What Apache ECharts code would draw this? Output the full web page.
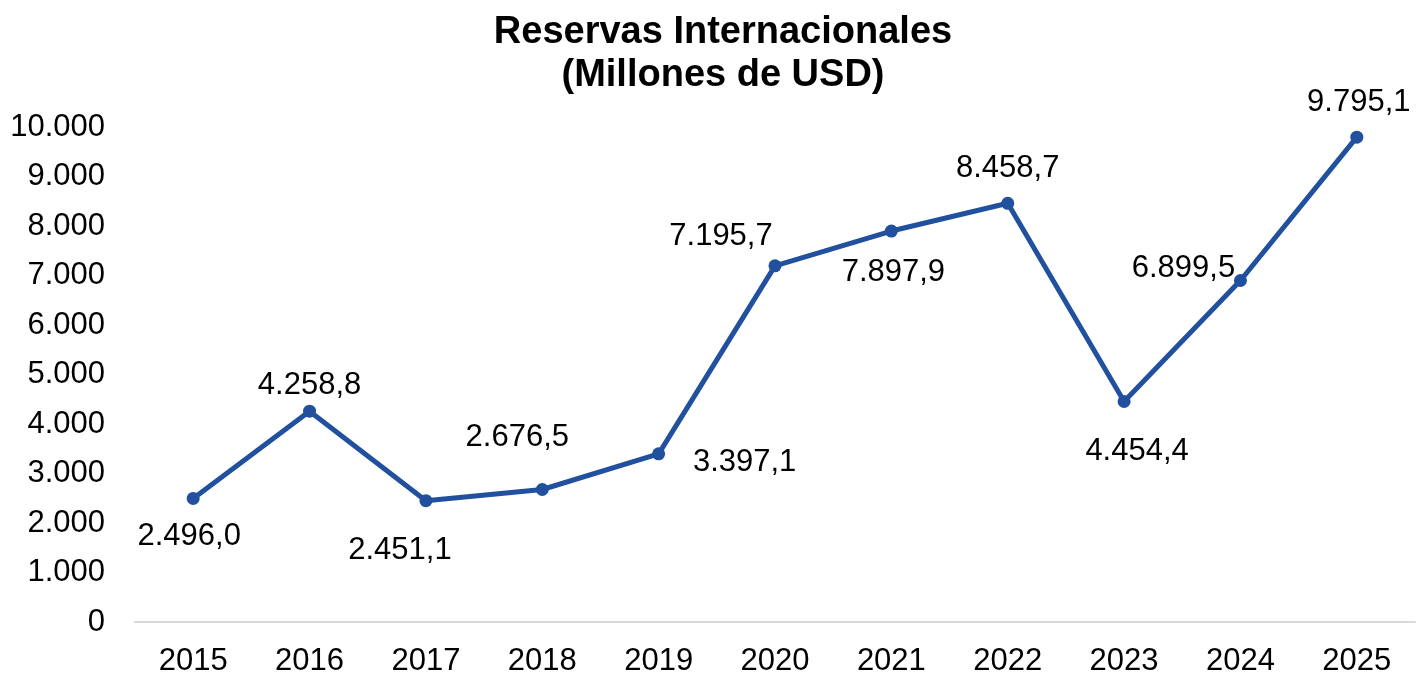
<!DOCTYPE html>
<html>
<head>
<meta charset="utf-8">
<script src="https://cdn.jsdelivr.net/npm/echarts@6/dist/echarts.min.js"></script>
<style>
html,body{margin:0;padding:0;background:#fff;}
#chart{width:1416px;height:677px;}
</style>
</head>
<body>
<div id="chart"></div>
<script>
var years = ['2015','2016','2017','2018','2019','2020','2021','2022','2023','2024','2025'];
var reservas = [2496.0, 4258.8, 2451.1, 2676.5, 3397.1, 7195.7, 7897.9, 8458.7, 4454.4, 6899.5, 9795.1];
var yTicks = [0, 1000, 2000, 3000, 4000, 5000, 6000, 7000, 8000, 9000, 10000];

// label placement (style only)
var labelOffsets = [[-4,38],[0,-26],[-26,50],[-25,-52],[86,9],[-54,-29],[2,41],[0,-35],[13,50],[-57,-12],[2,-35]];

function fmt(v, dec){
  var s = v.toFixed(dec);
  var parts = s.split('.');
  var ip = parts[0].replace(/\B(?=(\d{3})+(?!\d))/g, '.');
  return parts.length > 1 ? ip + ',' + parts[1] : ip;
}

var FONT = '"Liberation Sans", Arial, sans-serif';
var chart = echarts.init(document.getElementById('chart'));
var data = reservas.map(function(v,i){
  return {value: v, label: {offset: labelOffsets[i]}};
});
chart.setOption({
  animation: false,
  backgroundColor: '#fff',
  title: {
    text: 'Reservas Internacionales\n(Millones de USD)',
    left: 718,
    textAlign: 'center',
    top: 6,
    textStyle: {fontFamily: FONT, fontWeight: 'bold', fontSize: 38, lineHeight: 43, color: '#000'}
  },
  grid: {left: 135, right: 1, top: 127, bottom: 51, containLabel: false},
  xAxis: {
    type: 'category',
    data: years,
    boundaryGap: true,
    axisLine: {lineStyle: {color: '#d9d9d9', width: 2}},
    axisTick: {show: false},
    axisLabel: {fontFamily: FONT, fontSize: 31, color: '#000', margin: 24}
  },
  yAxis: {
    type: 'value',
    min: yTicks[0],
    max: yTicks[yTicks.length-1],
    interval: 1000,
    axisLine: {show: false},
    axisTick: {show: false},
    splitLine: {show: false},
    axisLabel: {fontFamily: FONT, fontSize: 31, color: '#000', margin: 30,
      formatter: function(v){ return fmt(v,0); }}
  },
  series: [{
    type: 'line',
    data: data,
    symbol: 'circle',
    symbolSize: 13,
    lineStyle: {color: '#21509f', width: 5},
    itemStyle: {color: '#21509f'},
    label: {
      show: true,
      position: 'inside',
      fontFamily: FONT,
      fontSize: 31,
      color: '#000',
      formatter: function(p){ return fmt(p.value,1); }
    }
  }]
});
</script>
</body>
</html>
